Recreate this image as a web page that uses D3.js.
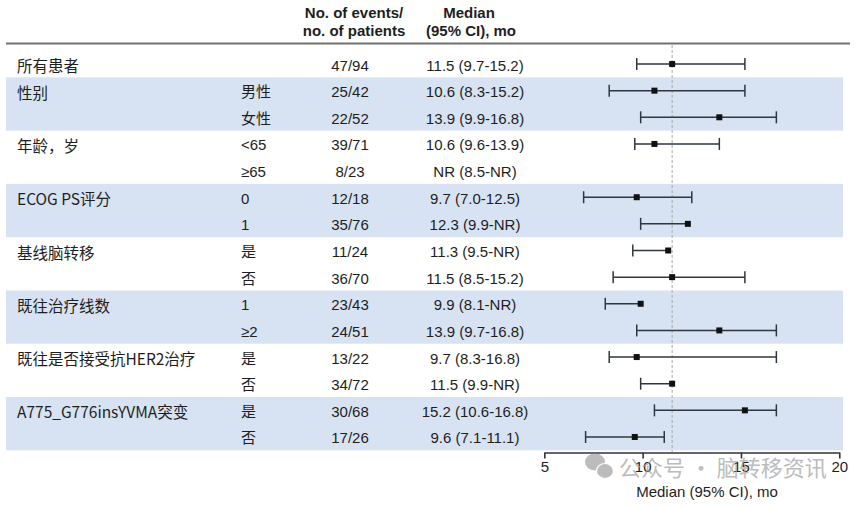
<!doctype html>
<html lang="zh">
    <head>
        <meta charset="utf-8">
        <title>Forest plot</title>
        <script type="text/javascript" src="https://cdn.jsdelivr.net/npm/d3@7"></script>
        <style>
            body { margin: 0; background: #fff; }
            text { fill: #1e1e1e; }
        </style>
    </head>
    <body>
        <script type="text/javascript">
            var svgW = 859;
            var svgH = 507;

            // table columns
            var categories = ["所有患者", "性别", "", "年龄，岁", "", "ECOG PS评分", "", "基线脑转移", "",
                              "既往治疗线数", "", "既往是否接受抗HER2治疗", "", "A775_G776insYVMA突变", ""];
            var subgroups = ["", "男性", "女性", "<65", "≥65", "0", "1", "是", "否", "1", "≥2", "是", "否", "是", "否"];
            var events = ["47/94", "25/42", "22/52", "39/71", "8/23", "12/18", "35/76", "11/24", "36/70",
                          "23/43", "24/51", "13/22", "34/72", "30/68", "17/26"];
            var ciText = ["11.5 (9.7-15.2)", "10.6 (8.3-15.2)", "13.9 (9.9-16.8)", "10.6 (9.6-13.9)", "NR (8.5-NR)",
                          "9.7 (7.0-12.5)", "12.3 (9.9-NR)", "11.3 (9.5-NR)", "11.5 (8.5-15.2)", "9.9 (8.1-NR)",
                          "13.9 (9.7-16.8)", "9.7 (8.3-16.8)", "11.5 (9.9-NR)", "15.2 (10.6-16.8)", "9.6 (7.1-11.1)"];

            // plotted values (null = NR)
            var medians = [11.5, 10.6, 13.9, 10.6, null, 9.7, 12.3, 11.3, 11.5, 9.9, 13.9, 9.7, 11.5, 15.2, 9.6];
            var lower   = [9.7, 8.3, 9.9, 9.6, 8.5, 7.0, 9.9, 9.5, 8.5, 8.1, 9.7, 8.3, 9.9, 10.6, 7.1];
            var upper   = [15.2, 15.2, 16.8, 13.9, null, 12.5, null, null, 15.2, null, 16.8, 16.8, null, 16.8, 11.1];
            var shadedGroups = [[1, 2], [5, 6], [9, 10], [13, 14]];
            var refMedian = 11.5;
            var xTicks = [5, 10, 15, 20];

            var rows = d3.range(categories.length);

            var xScale = d3.scaleLinear()
                           .domain([5, 20])
                           .range([544.3, 839.3]);

            var yScale = d3.scaleBand()
                           .domain(rows)
                           .range([50.7, 450.3]);
            var bw = yScale.bandwidth();
            var cy = i => yScale(i) + bw / 2;

            var svg = d3.select("body")
                        .append("svg")
                        .attr("width", svgW)
                        .attr("height", svgH);

            // shaded bands
            svg.selectAll("rect.band")
               .data(shadedGroups)
               .enter()
               .append("rect")
               .attr("class", "band")
               .attr("x", 6)
               .attr("width", 837)
               .attr("y", d => yScale(d[0]))
               .attr("height", d => yScale(d[1]) + bw - yScale(d[0]))
               .attr("fill", "#d7e3f3");

            // header
            var head = svg.append("g")
                          .style("font-family", "'Liberation Sans', Arial, sans-serif")
                          .style("font-weight", "bold")
                          .style("font-size", "15px")
                          .attr("text-anchor", "middle");
            head.append("text").attr("x", 354).attr("y", 18).text("No. of events/");
            head.append("text").attr("x", 354).attr("y", 36).text("no. of patients");
            head.append("text").attr("x", 469).attr("y", 18).text("Median");
            head.append("text").attr("x", 471).attr("y", 36).text("(95% CI), mo");

            svg.append("line")
               .attr("x1", 6).attr("x2", 850)
               .attr("y1", 43.5).attr("y2", 43.5)
               .attr("stroke", "#707070")
               .attr("stroke-width", 2.2);

            // reference line
            svg.append("line")
               .attr("x1", xScale(refMedian)).attr("x2", xScale(refMedian))
               .attr("y1", 45).attr("y2", 452)
               .attr("stroke", "#a8a8a8")
               .attr("stroke-width", 1)
               .attr("stroke-dasharray", "3,2");

            // table text
            var tbl = svg.append("g");
            tbl.selectAll("text.cat")
               .data(rows)
               .enter()
               .append("text")
               .attr("class", "cat")
               .attr("x", 17)
               .attr("y", i => cy(i) + 1)
               .attr("dominant-baseline", "central")
               .style("font-family", "'Noto Sans CJK SC', sans-serif")
               .style("font-size", "15.5px")
               .text(i => categories[i]);

            tbl.selectAll("text.sub")
               .data(rows)
               .enter()
               .append("text")
               .attr("class", "sub")
               .attr("x", 241)
               .attr("y", i => cy(i) + 1)
               .attr("dominant-baseline", "central")
               .style("font-family", "'Liberation Sans', 'Noto Sans CJK SC', sans-serif")
               .style("font-size", "15px")
               .text(i => subgroups[i]);

            tbl.selectAll("text.ev")
               .data(rows)
               .enter()
               .append("text")
               .attr("class", "ev")
               .attr("x", 350)
               .attr("y", i => cy(i) + 1)
               .attr("dominant-baseline", "central")
               .attr("text-anchor", "middle")
               .style("font-family", "'Liberation Sans', Arial, sans-serif")
               .style("font-size", "15px")
               .text(i => events[i]);

            tbl.selectAll("text.ci")
               .data(rows)
               .enter()
               .append("text")
               .attr("class", "ci")
               .attr("x", 475)
               .attr("y", i => cy(i) + 1)
               .attr("dominant-baseline", "central")
               .attr("text-anchor", "middle")
               .style("font-family", "'Liberation Sans', Arial, sans-serif")
               .style("font-size", "15px")
               .text(i => ciText[i]);

            // CI bars
            var plotted = rows.filter(i => medians[i] != null);
            var bars = svg.selectAll("g.ci-bar")
                          .data(plotted)
                          .enter()
                          .append("g")
                          .attr("class", "ci-bar")
                          .attr("stroke", "#2f3640")
                          .attr("stroke-width", 1.5);

            bars.append("line")
                .attr("x1", i => xScale(lower[i]))
                .attr("x2", i => xScale(upper[i] != null ? upper[i] : medians[i]))
                .attr("y1", cy).attr("y2", cy);

            bars.append("line")
                .attr("x1", i => xScale(lower[i]))
                .attr("x2", i => xScale(lower[i]))
                .attr("y1", i => cy(i) - 6).attr("y2", i => cy(i) + 6);

            bars.filter(i => upper[i] != null)
                .append("line")
                .attr("x1", i => xScale(upper[i]))
                .attr("x2", i => xScale(upper[i]))
                .attr("y1", i => cy(i) - 6).attr("y2", i => cy(i) + 6);

            bars.append("rect")
                .attr("x", i => xScale(medians[i]) - 3)
                .attr("y", i => cy(i) - 3)
                .attr("width", 6)
                .attr("height", 6)
                .attr("fill", "#111")
                .attr("stroke", "none");

            // axis
            var xAxis = d3.axisBottom(xScale)
                          .tickValues(xTicks)
                          .tickSize(6)
                          .tickSizeOuter(0);
            var ax = svg.append("g")
                        .attr("transform", "translate(0,452.5)")
                        .call(xAxis);
            ax.select(".domain").attr("stroke", "#333").attr("stroke-width", 1.6);
            ax.selectAll(".tick line").attr("stroke", "#333").attr("stroke-width", 1.6);
            ax.selectAll(".tick text")
              .attr("y", 9)
              .style("font-family", "'Liberation Sans', Arial, sans-serif")
              .style("font-size", "15px")
              .attr("fill", "#1e1e1e");

            svg.append("text")
               .attr("x", 707)
               .attr("y", 497)
               .attr("text-anchor", "middle")
               .style("font-family", "'Liberation Sans', Arial, sans-serif")
               .style("font-size", "15px")
               .text("Median (95% CI), mo");

            // watermark (overlaps tick labels, as in the source image)
            var wm = svg.append("g").attr("opacity", 0.7);
            wm.append("ellipse").attr("cx", 595).attr("cy", 462).attr("rx", 10).attr("ry", 8.5).attr("fill", "#a0a0a0");
            wm.append("ellipse").attr("cx", 605).attr("cy", 471).attr("rx", 8.5).attr("ry", 7.5).attr("fill", "#a0a0a0")
              .attr("stroke", "#fff").attr("stroke-width", 1.2);
            wm.append("text")
              .attr("x", 619)
              .attr("y", 466)
              .attr("dominant-baseline", "central")
              .style("font-family", "'Noto Sans CJK SC', sans-serif")
              .style("font-size", "22px")
              .style("fill", "#a0a0a0")
              .text("公众号 · 脑转移资讯");
        </script>
    </body>
</html>
